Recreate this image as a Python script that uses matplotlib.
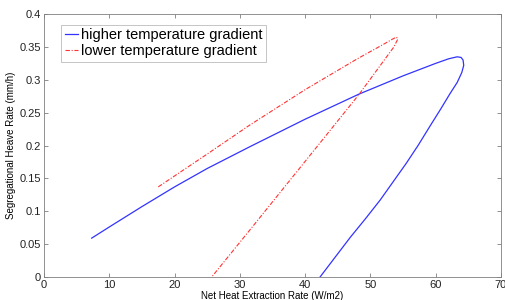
import matplotlib
matplotlib.use('Agg')
import matplotlib.pyplot as plt

plt.rcParams.update({
    'font.family': ['Liberation Sans', 'DejaVu Sans'],
    'font.size': 8,
    'axes.linewidth': 0.6,
    'axes.edgecolor': '#7f7f7f',
    'xtick.color': '#7f7f7f',
    'ytick.color': '#7f7f7f',
    'xtick.labelcolor': '#222222',
    'ytick.labelcolor': '#222222',
})

# higher temperature gradient
high_x = [7.3, 10, 15, 20, 25, 31.5, 40, 48.2, 55, 60, 62.0, 63.3, 63.9, 64.2,
          64.3, 64.0, 63.3, 62.2, 60.8, 59.1, 57.3, 55.5, 53.5, 51.5, 49.2,
          46.9, 44.6, 42.3]
high_y = [0.059, 0.076, 0.107, 0.137, 0.165, 0.198, 0.240, 0.278, 0.306, 0.325,
          0.332, 0.335, 0.334, 0.330, 0.322, 0.311, 0.296, 0.279, 0.256, 0.229,
          0.200, 0.173, 0.145, 0.117, 0.088, 0.060, 0.030, 0.0]

# lower temperature gradient
low_x = [17.5, 25, 31.5, 40, 48, 52, 53.4, 54.0, 54.2, 53.6, 48.2, 41.8, 31.5, 25.7]
low_y = [0.137, 0.187, 0.231, 0.285, 0.332, 0.354, 0.362, 0.365, 0.362, 0.350,
         0.277, 0.198, 0.071, 0.0]

fig = plt.figure(figsize=(5.06, 3.0), dpi=100)
ax = fig.add_axes([0.087, 0.077, 0.903, 0.876])

ax.plot(high_x, high_y, color='#3333ff', linewidth=0.9, label='higher temperature gradient')
ax.plot(low_x, low_y, color='#ff3333', linewidth=0.8, dashes=(4, 1.5, 1, 1.5),
        label='lower temperature gradient')

ax.set_xlim(0, 70)
ax.set_ylim(0, 0.4)
ax.set_xticks(range(0, 71, 10))
ax.set_yticks([0, 0.05, 0.1, 0.15, 0.2, 0.25, 0.3, 0.35, 0.4])
ax.set_yticklabels(['0', '0.05', '0.1', '0.15', '0.2', '0.25', '0.3', '0.35', '0.4'])
ax.tick_params(direction='in', top=True, right=True, length=3, width=0.6, labelsize=8, pad=2)

ax.set_xlabel('Net Heat Extraction Rate (W/m2)', fontsize=7, labelpad=1)
ax.set_ylabel('Segregational Heave Rate (mm/h)', fontsize=7, labelpad=3)

leg = ax.legend(loc='upper left', bbox_to_anchor=(0.037, 0.96), fontsize=10.5, frameon=True,
                fancybox=False, handlelength=0.9, handletextpad=0.2, borderpad=0.25,
                labelspacing=0.15, borderaxespad=0)
leg.get_frame().set_edgecolor('#aaaaaa')
leg.get_frame().set_linewidth(0.6)

fig.savefig('out.png', dpi=100)
plt.close()
